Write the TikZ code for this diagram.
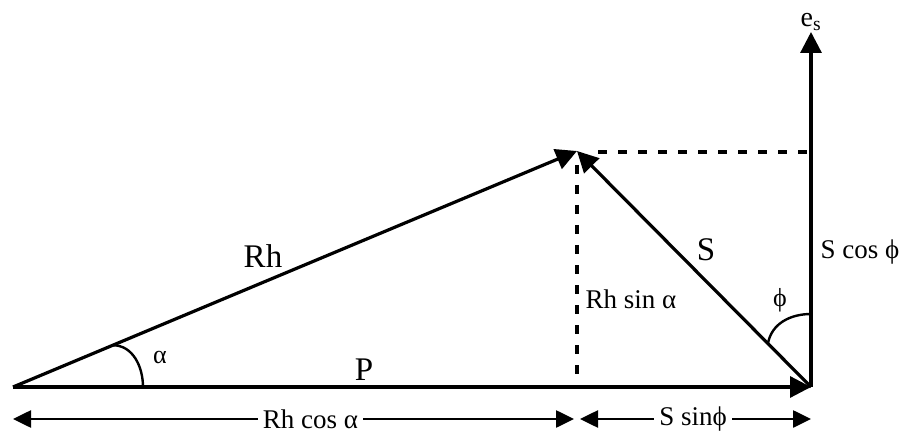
\documentclass[tikz,border=0pt]{standalone}
\usepackage{fontspec}
\setmainfont{Liberation Serif}
\usetikzlibrary{arrows.meta, positioning, calc}

\begin{document}
\begin{tikzpicture}[
      x=1pt, y=1pt,
      vec/.style={line width=3.2pt, -{Triangle[length=21pt,width=21pt]}},
      guide/.style={line width=3.2pt, dash pattern=on 9pt off 11pt},
      dimline/.style={line width=2.6pt,
        {Triangle[length=18pt,width=17pt]}-{Triangle[length=18pt,width=17pt]}},
      biglabel/.style={font=\fontsize{33}{36}\selectfont, inner sep=0pt},
      smalllabel/.style={font=\fontsize{27}{30}\selectfont, inner sep=0pt},
      anglelabel/.style={font=\fontsize{26}{28}\selectfont, inner sep=0pt}
    ]
      \useasboundingbox (0,0) rectangle (904,434);
      % corners of the triangle
      \coordinate (origin) at (13,47);
      \coordinate (base) at (811,47);
      \coordinate (apex) at (577,283);
      \coordinate (axistop) at (811,402);
      % ends of the dashed guides
      \coordinate (dropstart) at ($(apex)+(0,-14)$);
      \coordinate (dropend) at ($(apex |- base)+(0,7)$);
      \coordinate (levelstart) at ($(apex)+(21,-1)$);
      \coordinate (levelend) at ($(axistop |- apex)+(0,-1)$);
      % angle marks
      \coordinate (alphastart) at ($(origin)!0.177!(apex)$);
      \coordinate (alphaend) at ($(origin)+(130,0)$);
      \coordinate (phistart) at ($(base)+(0,73)$);
      \coordinate (phiend) at ($(base)!0.184!(apex)$);
      % dimension line
      \coordinate (dimleft) at (13,15);
      \coordinate (dimmidleft) at (574,15);
      \coordinate (dimmidright) at (580,15);
      \coordinate (dimright) at (811,15);

      \draw[vec] (origin) -- (base);
      \draw[vec] (origin) -- (apex);
      \draw[vec] (base) -- (apex);
      \draw[vec] (base) -- (axistop);
      \draw[guide] (dropstart) -- (dropend);
      \draw[guide] (levelstart) -- (levelend);
      \draw[line width=2.4pt] (alphastart) to[out=0, in=90] (alphaend);
      \draw[line width=2.4pt] (phistart) to[out=180, in=80] (phiend);

      \draw[dimline] (dimleft) -- (dimmidleft)
        node[pos=0.53, fill=white, smalllabel, inner xsep=5pt] {Rh cos α};
      \draw[dimline] (dimmidright) -- (dimright)
        node[pos=0.49, fill=white, smalllabel, inner xsep=5pt] {S sinϕ};

      \node[biglabel] (rhlabel) at (263,178) {Rh};
      \node[biglabel] (plabel) at (364,64) {P};
      \node[biglabel] (slabel) at (706,184) {S};
      \node[smalllabel] (rhsinlabel) at (631,135) {Rh sin α};
      \node[smalllabel] (scoslabel) at (860,182) {S cos ϕ};
      \node[anglelabel] (alphalabel) at (160,77) {α};
      \node[anglelabel] (philabel) at (780,134) {ϕ};
      \node[font=\fontsize{28}{30}\selectfont, inner sep=0pt,
        above=1pt of axistop] (eslabel) {e\textsubscript{s}};
    \end{tikzpicture}
\end{document}
